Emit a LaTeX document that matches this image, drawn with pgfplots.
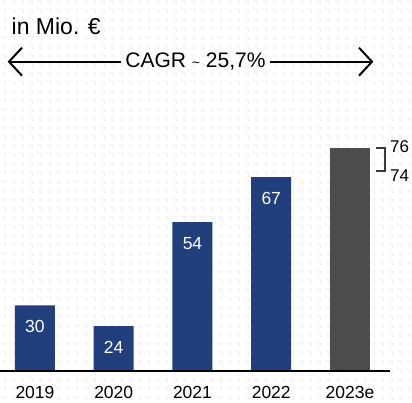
\documentclass[border=0pt]{standalone}
\usepackage{pgfplots}
\pgfplotsset{compat=1.18}
\usetikzlibrary{patterns.meta}
\usepackage{fontspec}
\setmainfont{Liberation Sans}
\definecolor{barblue}{HTML}{213E7D}
\definecolor{bargrey}{HTML}{4C4C4C}
\definecolor{brk}{HTML}{3A3A3A}
\definecolor{bgmark}{HTML}{EFEFEF}
\tikzdeclarepattern{
  name=hookmarks,
  type=colored,
  bounding box={(0pt,0pt) and (8.7pt,9pt)},
  tile size={(8.7pt,9pt)},
  code={\draw[line width=0.9pt, bgmark] (1.5pt,7pt) -- (5.5pt,7pt) -- (5.5pt,3pt);}
}
\begin{document}
\begin{tikzpicture}[x=1pt,y=1pt]
\fill[white] (0,0) rectangle (412,402);
\fill[pattern=hookmarks] (0,0) rectangle (412,402);
\begin{axis}[
  at={(0pt,31.5pt)}, anchor=south west,
  scale only axis, width=390pt, height=270.5pt,
  xmin=-0.444, xmax=4.508, ymin=11.17, ymax=89.24,
  axis x line*=bottom, axis y line=none,
  axis line style={draw=none},
  xtick={0,1,2,3,4}, xticklabels={2019,2020,2021,2022,2023e},
  major tick length=0pt,
  xticklabel style={font=\fontsize{17.5}{17.5}\selectfont, anchor=north, inner sep=0pt, yshift=-15.5pt},
  ytick=\empty,
  /pgf/number format/assume math mode=true,
  ybar, bar width=40pt, bar shift=0pt,
  clip=true,
]
\addplot[fill=barblue, draw=none,
  nodes near coords,
  every node near coord/.append style={anchor=center, yshift=-21pt, text=white, inner sep=0pt, font=\fontsize{17.5}{17.5}\selectfont}]
  coordinates {(0,30) (1,24) (2,54) (3,67)};
\addplot[fill=bargrey, draw=none] coordinates {(4,75.4)};
\end{axis}
% baseline
\draw[line width=1.6pt, black] (0,31) -- (390,31);
% unit text
\node[anchor=base west, inner sep=0pt, font=\fontsize{23}{23}\selectfont] at (11.5,367) {in Mio. €};
% CAGR arrow
\draw[line width=2pt] (9,340.3) -- (121,340.3);
\draw[line width=2pt] (270,340.3) -- (372,340.3);
\draw[line width=2pt, line join=miter] (22,354.3) -- (9,340.3) -- (22,326.3);
\draw[line width=2pt, line join=miter] (359,354.3) -- (372,340.3) -- (359,326.3);
\node[anchor=base, inner sep=0pt, font=\fontsize{21}{21}\selectfont] at (195.5,334) {CAGR {\fontsize{14}{14}\selectfont\textasciitilde} 25,7\%};
% range bracket
\draw[brk, line width=2pt] (376,254) -- (385,254) -- (385,231) -- (376,231);
\node[anchor=west, inner sep=0pt, font=\fontsize{17}{17}\selectfont] at (390,255) {76};
\node[anchor=west, inner sep=0pt, font=\fontsize{17}{17}\selectfont] at (390,226.5) {74};
\pgfresetboundingbox
\path[use as bounding box] (0,0) rectangle (412,402);
\end{tikzpicture}
\end{document}
